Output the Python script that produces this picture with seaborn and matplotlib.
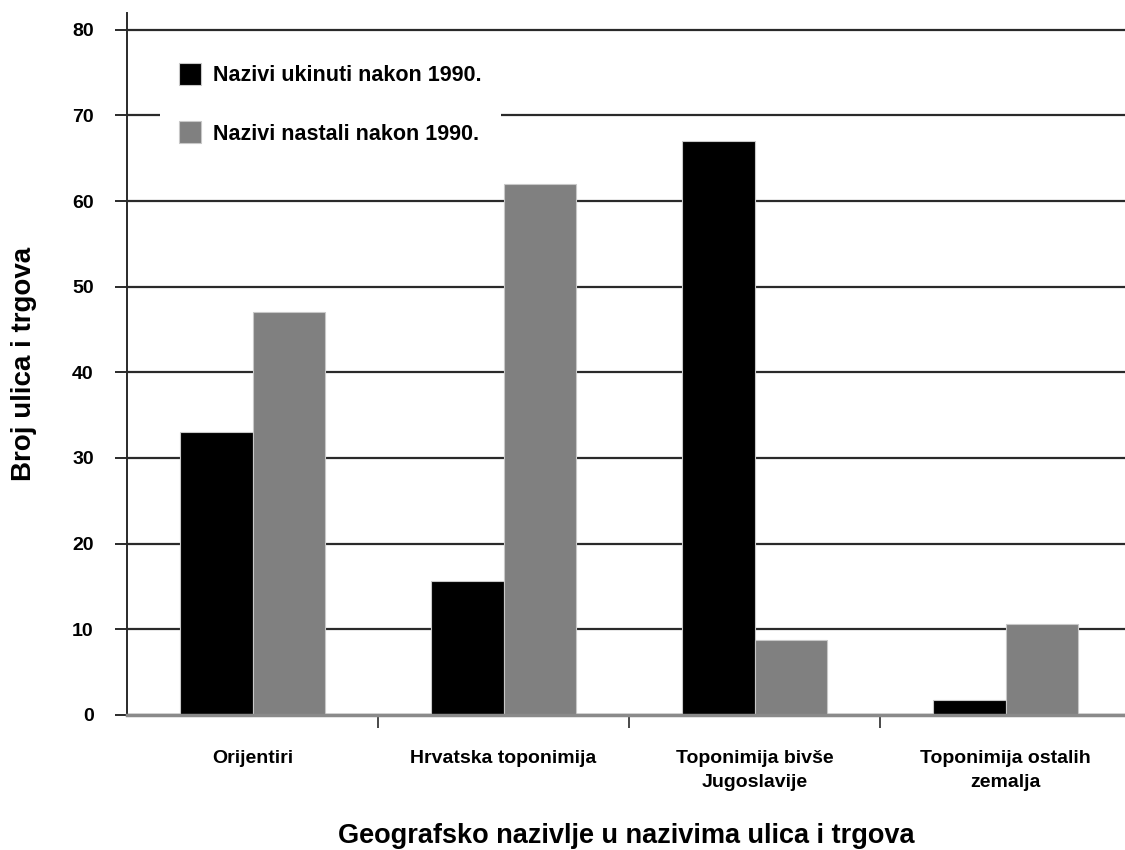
import pandas as pd
import numpy as np
import matplotlib
matplotlib.use("Agg")
import matplotlib.pyplot as plt
import seaborn as sns

# Podaci
kategorije = ["Orijentiri", "Hrvatska toponimija", "Toponimija bivše\nJugoslavije", "Toponimija ostalih\nzemalja"]
ukinuti = [33, 15.6, 67, 1.7]
nastali = [47, 62, 8.8, 10.6]
serije = ["Nazivi ukinuti nakon 1990.", "Nazivi nastali nakon 1990."]
y_ticks = [0, 10, 20, 30, 40, 50, 60, 70, 80]

df = pd.DataFrame({
    "kategorija": kategorije * 2,
    "broj": ukinuti + nastali,
    "serija": [serije[0]] * len(kategorije) + [serije[1]] * len(kategorije),
})

sns.set_style("white")
plt.rcParams["font.family"] = ["Liberation Sans", "DejaVu Sans"]
plt.rcParams["font.weight"] = "bold"
for k in ["text.color", "axes.labelcolor", "xtick.color", "ytick.color"]:
    plt.rcParams[k] = "black"

fig = plt.figure(figsize=(11.25, 8.5), dpi=100)
ax = fig.add_axes([0.113, 0.159, 0.887, 0.826])

sns.barplot(data=df, x="kategorija", y="broj", hue="serija", order=kategorije,
            hue_order=serije, palette=["#000000", "#808080"], width=0.575,
            edgecolor="#c8c8c8", linewidth=0.8, saturation=1, ax=ax, zorder=3)

ax.set_xlim(-0.5, 3.476)
ax.set_ylim(0, 82)
ax.set_yticks(y_ticks)
ax.yaxis.grid(True, color="#2a2a2a", linewidth=1.6, zorder=1)
ax.set_axisbelow(True)

for s in ["top", "right"]:
    ax.spines[s].set_visible(False)
ax.spines["left"].set_color("#2a2a2a")
ax.spines["left"].set_linewidth(1.4)
ax.spines["bottom"].set_color("#8a8a8a")
ax.spines["bottom"].set_linewidth(2.5)
ax.spines["bottom"].set_zorder(4)

ax.tick_params(axis="y", which="major", length=9, width=1.4, color="#2a2a2a",
               labelsize=14, pad=15, direction="out", left=True)
ax.tick_params(axis="x", which="major", length=0, labelsize=14, pad=25)
ax.set_xticks([0.5, 1.5, 2.5], minor=True)
ax.tick_params(axis="x", which="minor", length=9, width=1.2, color="#2a2a2a",
               direction="out", bottom=True)
for lab in ax.get_yticklabels() + ax.get_xticklabels():
    lab.set_fontweight("bold")
for lab in ax.get_xticklabels():
    lab.set_linespacing(1.55)

ax.set_xlabel("Geografsko nazivlje u nazivima ulica i trgova", fontsize=19.5,
              fontweight="bold", labelpad=23)
ax.set_ylabel("Broj ulica i trgova", fontsize=20, fontweight="bold", labelpad=25)

leg = ax.legend(loc="upper left", bbox_to_anchor=(0.022, 0.972), frameon=True,
                facecolor="white", edgecolor="none", framealpha=1,
                fontsize=15.5, handlelength=1.0, handleheight=1.2,
                labelspacing=1.65, borderpad=0.9, handletextpad=0.55)
leg.set_zorder(5)
for t in leg.get_texts():
    t.set_fontweight("bold")

fig.savefig("out.png", dpi=100)
